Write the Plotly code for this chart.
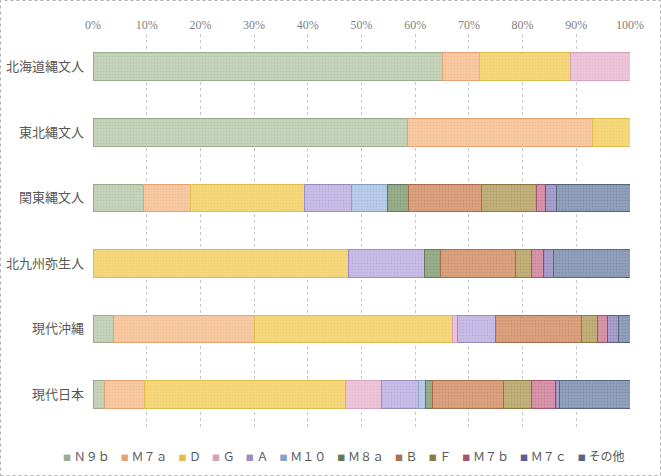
import plotly.graph_objects as go

categories = ["北海道縄文人", "東北縄文人", "関東縄文人", "北九州弥生人", "現代沖縄", "現代日本"]
series_names = ["Ｎ９ｂ", "Ｍ７ａ", "Ｄ", "Ｇ", "Ａ", "Ｍ１０", "Ｍ８ａ", "Ｂ", "Ｆ", "Ｍ７ｂ", "Ｍ７ｃ", "その他"]

N9b   = [65.0, 58.6, 9.4, 0.0, 3.9, 2.1]
M7a   = [7.0, 34.5, 8.8, 0.0, 26.2, 7.4]
D     = [17.0, 6.9, 21.1, 47.6, 36.8, 37.5]
G     = [11.0, 0.0, 0.0, 0.0, 1.0, 6.8]
A     = [0.0, 0.0, 8.8, 14.2, 7.0, 6.9]
M10   = [0.0, 0.0, 6.8, 0.0, 0.0, 1.3]
M8a   = [0.0, 0.0, 3.8, 3.0, 0.0, 1.2]
B     = [0.0, 0.0, 13.6, 13.9, 16.0, 13.3]
F     = [0.0, 0.0, 10.2, 3.0, 3.0, 5.2]
M7b   = [0.0, 0.0, 1.8, 2.1, 2.0, 4.4]
M7c   = [0.0, 0.0, 2.0, 2.0, 2.0, 0.8]
other = [0.0, 0.0, 13.7, 14.2, 2.1, 13.1]

tick_vals = [0, 10, 20, 30, 40, 50, 60, 70, 80, 90, 100]
tick_text = ["0%", "10%", "20%", "30%", "40%", "50%", "60%", "70%", "80%", "90%", "100%"]

series_values = [N9b, M7a, D, G, A, M10, M8a, B, F, M7b, M7c, other]

fills = ["#c5d4ba", "#f8c9a2", "#f6d87c", "#eec5d8", "#c9bde8", "#b9cce8",
         "#98ae8c", "#dba27f", "#c3b17c", "#d895ab", "#a9a0cc", "#91a1bd"]
borders = ["#9aab8e", "#e5a274", "#e2bd4e", "#d5a2bb", "#9a8cc4", "#86a0c8",
           "#637a58", "#a86f4c", "#8c7a42", "#a35573", "#625a93", "#55657f"]

FONT = "Liberation Serif, Noto Sans CJK JP, serif"

fig = go.Figure()
for name, vals, fc, bc in zip(series_names, series_values, fills, borders):
    fig.add_trace(go.Bar(
        y=categories, x=vals, name=name, orientation="h",
        marker=dict(color=fc, line=dict(color=bc, width=1),
                    pattern=dict(shape=".", fgcolor=bc, fgopacity=0.35, size=3, solidity=0.25)),
        showlegend=False,
    ))

fig.update_layout(
    barmode="stack",
    barnorm="percent",
    bargap=0.58,
    width=661, height=476,
    margin=dict(l=93, r=31, t=34, b=49, autoexpand=False),
    paper_bgcolor="white", plot_bgcolor="white",
    font=dict(family=FONT, color="#595959", size=12),
    xaxis=dict(range=[0, 100], side="top", tickvals=tick_vals, ticktext=tick_text,
               showgrid=True, gridcolor="#c8c8c8", griddash="dot", gridwidth=1,
               zeroline=False, showline=False, ticks="", ticklabelstandoff=2,
               automargin=False,
               tickfont=dict(size=12, color="#7f7f7f", family=FONT)),
    yaxis=dict(autorange="reversed", showgrid=False, zeroline=False, showline=False,
               ticks="", ticklabelstandoff=8, automargin=False,
               tickfont=dict(size=13, color="#595959", family=FONT)),
)

# legend built from series names and colours
parts = []
for name, fc, bc in zip(series_names, fills, borders):
    parts.append('<span style="font-size:8px;color:%s">■</span> %s' % (bc, name))
legend_text = '<span style="font-size:11px">　</span>'.join(parts)
fig.add_annotation(xref="paper", yref="paper", x=(343.5 - 93) / 537, y=-(455 - 427) / 393,
                   xanchor="center", yanchor="middle", showarrow=False,
                   text=legend_text, font=dict(size=12, color="#595959",
                                               family="Noto Sans CJK JP, sans-serif"))

# outer dotted chart border
fig.add_shape(type="rect", xref="paper", yref="paper",
              x0=(0.5 - 93) / 537, x1=(660.5 - 93) / 537,
              y0=-(475.5 - 427) / 393, y1=(427 - 0.5) / 393,
              line=dict(color="#b0b0b0", width=1, dash="dot"))

fig.write_html("out.html", config={"displayModeBar": False},
               post_script="document.body.style.margin='0';document.body.style.overflow='hidden';")
